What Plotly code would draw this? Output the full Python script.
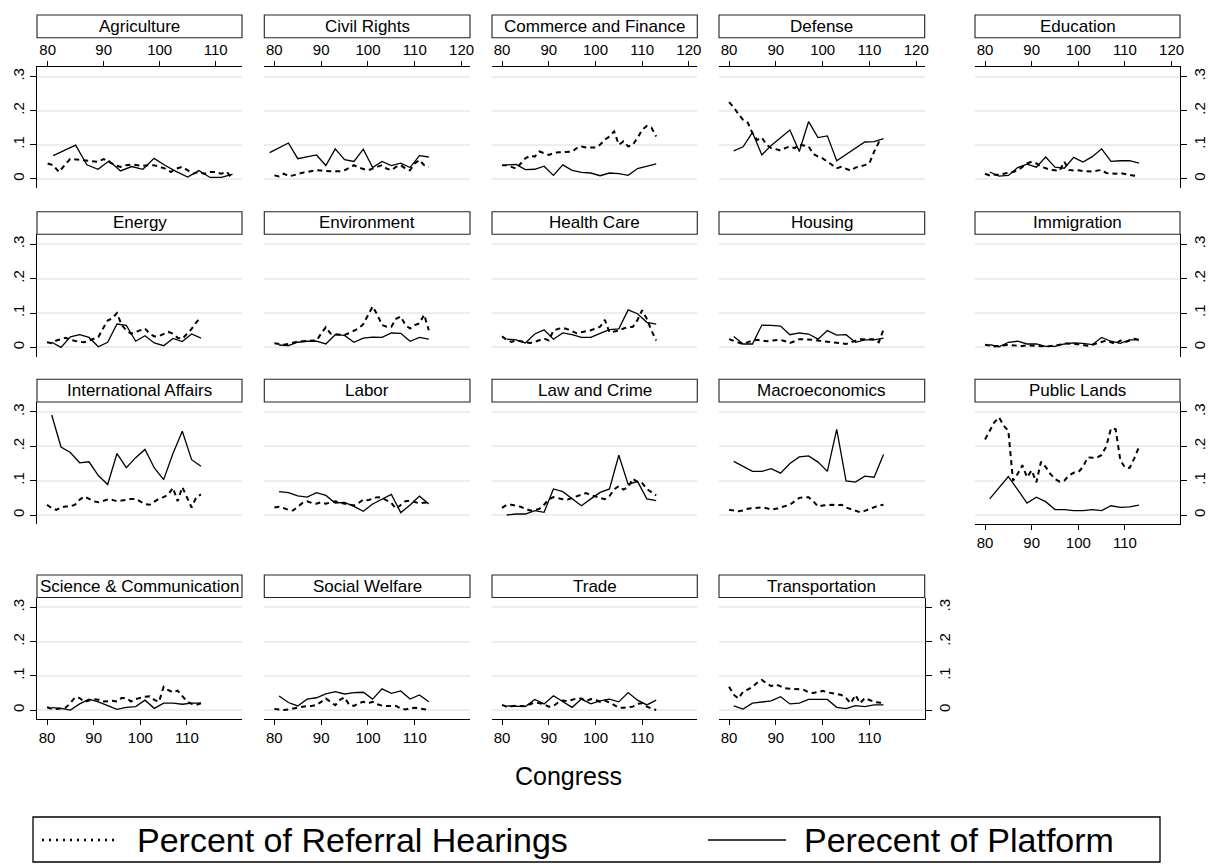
import plotly.graph_objects as go

FONT = "Liberation Sans, Arial, Helvetica, sans-serif"

# ---------------- data ----------------
HEARING_CONGRESS = list(range(80, 114))
PLATFORM_CONGRESS = list(range(81, 114, 2))
CIVIL_RIGHTS_PLATFORM_CONGRESS = list(range(79, 114, 2))

TOPICS = ["Agriculture", "Civil Rights", "Commerce and Finance", "Defense", "Education",
          "Energy", "Environment", "Health Care", "Housing", "Immigration",
          "International Affairs", "Labor", "Law and Crime", "Macroeconomics", "Public Lands",
          "Science & Communication", "Social Welfare", "Trade", "Transportation"]

AGRICULTURE_HEARINGS = [.045, .04, .02, .04, .058, .057, .055, .055, .053, .05, .058, .048, .04, .035, .04, .042, .04,
                        .038, .04, .04, .035, .03, .02, .03, .035, .025, .015, .02, .015, .02, .02, .015, .02, .0]
AGRICULTURE_PLATFORM = [.068, .083, .099, .041, .028, .053, .023, .036, .028, .06, .039, .021, .005, .024, .004, .004, .013]

CIVIL_RIGHTS_HEARINGS = [.01, .007, .015, .008, .01, .015, .018, .02, .022, .025, .024, .022, .022, .022, .022, .025, .032,
                         .04, .033, .028, .025, .03, .035, .04, .03, .025, .035, .04, .03, .025, .045, .055, .04, .035]
CIVIL_RIGHTS_PLATFORM = [.077, .091, .105, .059, .064, .07, .039, .088, .056, .051, .087, .033, .051, .039, .046, .033, .068, .064]

COMMERCE_HEARINGS = [.04, .04, .035, .03, .045, .06, .068, .065, .08, .075, .07, .075, .078, .078, .078, .08, .09,
                     .095, .092, .092, .092, .1, .115, .124, .139, .1, .11, .095, .1, .12, .144, .155, .15, .124]
COMMERCE_PLATFORM = [.041, .042, .027, .028, .037, .01, .041, .025, .019, .017, .009, .017, .015, .01, .03, .038, .044]

DEFENSE_HEARINGS = [.225, .21, .19, .173, .165, .134, .114, .121, .1, .09, .087, .083, .09, .095, .09, .1, .098,
                    .095, .073, .065, .06, .05, .04, .031, .035, .03, .024, .033, .036, .04, .046, .08, .107, .107]
DEFENSE_PLATFORM = [.082, .094, .136, .07, .098, .12, .143, .08, .168, .121, .126, .053, .072, .09, .108, .109, .118]

EDUCATION_HEARINGS = [.015, .01, .012, .012, .015, .017, .02, .025, .036, .045, .05, .045, .036, .03, .026, .025, .024,
                      .05, .026, .024, .025, .023, .023, .021, .024, .026, .017, .016, .015, .017, .014, .01, .009, .008]
EDUCATION_PLATFORM = [.02, .008, .01, .033, .043, .034, .064, .034, .031, .063, .049, .065, .088, .051, .053, .053, .046]

ENERGY_HEARINGS = [.015, .012, .02, .025, .028, .022, .018, .016, .015, .02, .026, .03, .055, .078, .085, .1, .065,
                   .05, .04, .045, .05, .055, .04, .032, .033, .04, .045, .04, .028, .025, .04, .054, .073, .088]
ENERGY_PLATFORM = [.015, .0, .031, .037, .029, .002, .015, .068, .064, .018, .034, .013, .005, .026, .017, .039, .027]

ENVIRONMENT_HEARINGS = [.012, .01, .008, .01, .014, .017, .018, .018, .019, .02, .04, .059, .04, .038, .037, .036, .042,
                        .048, .055, .068, .095, .119, .095, .065, .06, .06, .083, .09, .065, .055, .065, .07, .095, .05]
ENVIRONMENT_PLATFORM = [.007, .005, .015, .018, .018, .01, .037, .035, .015, .027, .03, .029, .042, .041, .018, .029, .024]

HEALTH_HEARINGS = [.032, .022, .016, .02, .018, .015, .013, .016, .022, .026, .02, .049, .054, .057, .053, .048, .041,
                   .044, .046, .05, .055, .06, .08, .044, .046, .049, .055, .059, .06, .08, .108, .083, .049, .02]
HEALTH_PLATFORM = [.024, .022, .013, .039, .051, .024, .042, .037, .029, .029, .041, .052, .054, .109, .098, .073, .068]

HOUSING_HEARINGS = [.024, .018, .014, .01, .016, .02, .022, .02, .018, .02, .021, .022, .018, .013, .018, .024, .024,
                    .024, .022, .02, .018, .016, .015, .013, .011, .01, .015, .02, .024, .024, .024, .024, .015, .052]
HOUSING_PLATFORM = [.032, .01, .01, .065, .064, .062, .037, .042, .039, .024, .049, .036, .037, .015, .022, .022, .027]

IMMIGRATION_HEARINGS = [.008, .005, .003, .004, .006, .008, .006, .005, .004, .006, .005, .004, .003, .003, .004, .005, .008,
                        .012, .01, .01, .009, .007, .005, .008, .012, .018, .02, .015, .01, .02, .015, .02, .025, .022]
IMMIGRATION_PLATFORM = [.008, .002, .015, .018, .01, .01, .003, .003, .01, .013, .012, .008, .029, .018, .012, .022, .022]

INTERNATIONAL_HEARINGS = [.03, .02, .015, .022, .025, .025, .03, .045, .054, .048, .04, .037, .042, .045, .044, .04, .042,
                          .045, .047, .047, .04, .032, .03, .04, .048, .052, .06, .079, .04, .081, .052, .022, .052, .06]
INTERNATIONAL_PLATFORM = [.291, .198, .182, .152, .155, .115, .089, .179, .138, .167, .191, .137, .103, .179, .244, .161, .142]

LABOR_HEARINGS = [.022, .024, .02, .015, .013, .025, .035, .04, .035, .033, .037, .033, .036, .04, .036, .033, .03,
                  .028, .035, .045, .043, .048, .052, .05, .042, .035, .018, .03, .04, .042, .038, .034, .036, .037]
LABOR_PLATFORM = [.068, .065, .056, .052, .065, .057, .035, .037, .025, .011, .032, .045, .06, .007, .029, .055, .032]

LAW_HEARINGS = [.021, .03, .03, .027, .024, .018, .013, .014, .018, .03, .045, .052, .048, .046, .045, .05, .055,
                .06, .064, .058, .054, .052, .046, .055, .075, .084, .074, .081, .106, .096, .093, .076, .066, .057]
LAW_PLATFORM = [.0, .003, .003, .013, .008, .076, .068, .047, .027, .047, .066, .076, .174, .089, .098, .047, .042]

MACRO_HEARINGS = [.015, .013, .011, .013, .018, .02, .021, .022, .02, .016, .018, .022, .025, .03, .04, .05, .052,
                  .052, .04, .025, .028, .03, .03, .028, .03, .022, .018, .012, .008, .012, .018, .022, .028, .03]
MACRO_PLATFORM = [.156, .142, .127, .127, .135, .122, .15, .169, .172, .154, .127, .249, .099, .096, .113, .11, .176]

PUBLIC_LANDS_HEARINGS = [.22, .245, .27, .284, .26, .245, .1, .12, .145, .11, .13, .095, .155, .14, .12, .105, .097,
                         .1, .115, .123, .125, .14, .168, .167, .167, .175, .2, .252, .25, .16, .138, .137, .165, .198]
PUBLIC_LANDS_PLATFORM = [.047, .08, .112, .074, .035, .052, .039, .016, .016, .013, .013, .016, .013, .027, .022, .024, .029]

SCIENCE_HEARINGS = [.008, .004, .003, .005, .007, .02, .037, .035, .024, .028, .032, .03, .025, .026, .027, .025, .035,
                    .035, .025, .032, .036, .039, .04, .03, .024, .068, .058, .052, .057, .04, .025, .018, .015, .02]
SCIENCE_PLATFORM = [.007, .005, .0, .018, .032, .024, .013, .002, .008, .01, .029, .005, .02, .02, .017, .02, .02]

SOCIAL_WELFARE_HEARINGS = [.003, .002, .0, .002, .005, .007, .01, .012, .012, .015, .024, .034, .024, .014, .03, .037, .015,
                           .012, .02, .024, .02, .024, .017, .013, .012, .013, .012, .005, .002, .005, .007, .005, .002, .0]
SOCIAL_WELFARE_PLATFORM = [.041, .022, .012, .032, .036, .047, .054, .047, .051, .052, .032, .062, .049, .056, .032, .044, .024]

TRADE_HEARINGS = [.015, .01, .011, .013, .012, .012, .017, .022, .02, .017, .01, .012, .022, .028, .026, .03, .034,
                  .034, .026, .032, .03, .024, .028, .022, .015, .007, .007, .009, .01, .018, .02, .01, .004, .0]
TRADE_PLATFORM = [.012, .012, .01, .031, .018, .042, .024, .008, .032, .018, .027, .032, .024, .051, .029, .015, .029]

TRANSPORTATION_HEARINGS = [.068, .045, .034, .054, .06, .068, .08, .088, .078, .07, .075, .07, .064, .062, .062, .061, .059,
                           .052, .05, .054, .056, .052, .049, .046, .044, .035, .02, .044, .02, .035, .03, .024, .022, .02]
TRANSPORTATION_PLATFORM = [.012, .003, .02, .024, .027, .039, .018, .02, .031, .031, .031, .008, .004, .013, .01, .015, .015]

TOP_TICKS = [80, 90, 100, 110, 120]
AGRI_TOP_TICKS = [80, 90, 100, 110]
BOTTOM_TICKS = [80, 90, 100, 110]
Y_TICKS = [0, 0.1, 0.2, 0.3]
Y_TICK_LABELS = ["0", ".1", ".2", ".3"]

LEGEND_LABELS = ["Percent of Referral Hearings", "Perecent of Platform"]
X_TITLE = "Congress"

HEARINGS = [AGRICULTURE_HEARINGS, CIVIL_RIGHTS_HEARINGS, COMMERCE_HEARINGS, DEFENSE_HEARINGS, EDUCATION_HEARINGS,
            ENERGY_HEARINGS, ENVIRONMENT_HEARINGS, HEALTH_HEARINGS, HOUSING_HEARINGS, IMMIGRATION_HEARINGS,
            INTERNATIONAL_HEARINGS, LABOR_HEARINGS, LAW_HEARINGS, MACRO_HEARINGS, PUBLIC_LANDS_HEARINGS,
            SCIENCE_HEARINGS, SOCIAL_WELFARE_HEARINGS, TRADE_HEARINGS, TRANSPORTATION_HEARINGS]
PLATFORMS = [AGRICULTURE_PLATFORM, CIVIL_RIGHTS_PLATFORM, COMMERCE_PLATFORM, DEFENSE_PLATFORM, EDUCATION_PLATFORM,
             ENERGY_PLATFORM, ENVIRONMENT_PLATFORM, HEALTH_PLATFORM, HOUSING_PLATFORM, IMMIGRATION_PLATFORM,
             INTERNATIONAL_PLATFORM, LABOR_PLATFORM, LAW_PLATFORM, MACRO_PLATFORM, PUBLIC_LANDS_PLATFORM,
             SCIENCE_PLATFORM, SOCIAL_WELFARE_PLATFORM, TRADE_PLATFORM, TRANSPORTATION_PLATFORM]

# ---------------- geometry ----------------
W, H = 1209, 867
COL_PX = [(37, 242), (264.3, 470), (492, 697.3), (719, 924.7), (975, 1180)]
ROW_PX = [(66.7, 188), (234.3, 356.7), (402, 524.3), (597.5, 719.3)]
TITLE_PX = [(15, 37.7), (211.7, 234.3), (379.3, 402), (575, 597.5)]
X_RANGE = [77.85, 121.8]
AGRI_X_RANGE = [78.1, 114.7]
Y_RANGE = [-0.027, 0.329]

GRID = "#e6eff1"
LINE_W = 1.3
DASH = "5px,4px"


def px(xp):
    return xp / W


def py(yp):
    return 1 - yp / H


fig = go.Figure()
layout = dict(
    width=W, height=H, margin=dict(l=0, r=0, t=0, b=0, autoexpand=False),
    paper_bgcolor="white", plot_bgcolor="white",
    font=dict(family=FONT, color="black", size=15),
    shapes=[], annotations=[], showlegend=False,
)

for k, topic in enumerate(TOPICS):
    r, c = divmod(k, 5)
    x0, x1 = COL_PX[c]
    y0, y1 = ROW_PX[r]
    xa = "x" if k == 0 else f"x{k+1}"
    ya = "y" if k == 0 else f"y{k+1}"
    xkey = "xaxis" if k == 0 else f"xaxis{k+1}"
    ykey = "yaxis" if k == 0 else f"yaxis{k+1}"

    plat_x = CIVIL_RIGHTS_PLATFORM_CONGRESS if topic == "Civil Rights" else PLATFORM_CONGRESS
    fig.add_trace(go.Scatter(x=HEARING_CONGRESS, y=HEARINGS[k], mode="lines", xaxis=xa, yaxis=ya,
                             line=dict(color="black", width=2.0, dash=DASH),
                             name=LEGEND_LABELS[0], hoverinfo="skip"))
    fig.add_trace(go.Scatter(x=plat_x, y=PLATFORMS[k], mode="lines", xaxis=xa, yaxis=ya,
                             line=dict(color="black", width=LINE_W),
                             name=LEGEND_LABELS[1], hoverinfo="skip"))

    top = r == 0
    bottom = r == 3 or (r == 2 and c == 4)
    left = c == 0
    right = (c == 4 and r < 3) or (r == 3 and c == 3)

    xaxis = dict(domain=[px(x0), px(x1)], anchor=ya, range=AGRI_X_RANGE if k == 0 else X_RANGE,
                 showgrid=False, zeroline=False, showline=False, showticklabels=False, ticks="",
                 fixedrange=True)
    if top:
        xaxis.update(side="top", showline=True, linecolor="black", linewidth=1.3,
                     ticks="outside", ticklen=5, tickwidth=1.2, tickcolor="black",
                     tickvals=AGRI_TOP_TICKS if k == 0 else TOP_TICKS, showticklabels=True,
                     tickfont=dict(size=15, family=FONT, color="black"))
    elif bottom:
        xaxis.update(side="bottom", showline=True, linecolor="black", linewidth=1.3,
                     ticks="outside", ticklen=5, tickwidth=1.2, tickcolor="black",
                     tickvals=BOTTOM_TICKS, showticklabels=True,
                     tickfont=dict(size=15, family=FONT, color="black"))
    layout[xkey] = xaxis

    yaxis = dict(domain=[py(y1), py(y0)], anchor=xa, range=Y_RANGE,
                 tickvals=Y_TICKS, ticktext=Y_TICK_LABELS, showgrid=True, gridcolor=GRID, gridwidth=1.6,
                 zeroline=False, showline=False, showticklabels=False, ticks="", fixedrange=True)
    if left or right:
        yaxis.update(side="left" if left else "right", showline=True, linecolor="black", linewidth=1.3,
                     ticks="outside", ticklen=6, tickwidth=1.2, tickcolor="black", showticklabels=True,
                     tickangle=-90, tickfont=dict(size=15, family=FONT, color="black"))
    layout[ykey] = yaxis

    ty0, ty1 = TITLE_PX[r]
    layout["shapes"].append(dict(type="rect", xref="paper", yref="paper",
                                 x0=px(x0), x1=px(x1), y0=py(ty1), y1=py(ty0),
                                 line=dict(color="#222222", width=1.1), fillcolor="white", layer="above"))
    layout["annotations"].append(dict(text=topic, xref="paper", yref="paper",
                                      x=px((x0 + x1) / 2), y=py((ty0 + ty1) / 2),
                                      xanchor="center", yanchor="middle", showarrow=False,
                                      font=dict(size=17, family=FONT, color="black")))

# x-axis title
layout["annotations"].append(dict(text=X_TITLE, xref="paper", yref="paper", x=px(568), y=py(776),
                                  xanchor="center", yanchor="middle", showarrow=False,
                                  font=dict(size=25, family=FONT, color="black")))

# legend (box, keys and labels)
LEG_BOX = (33, 817, 1160, 862)
LEG_Y = 840
layout["shapes"].append(dict(type="rect", xref="paper", yref="paper",
                             x0=px(LEG_BOX[0]), x1=px(LEG_BOX[2]), y0=py(LEG_BOX[3]), y1=py(LEG_BOX[1]),
                             line=dict(color="black", width=1.3), fillcolor="white"))
layout["shapes"].append(dict(type="line", xref="paper", yref="paper",
                             x0=px(42), x1=px(118), y0=py(LEG_Y), y1=py(LEG_Y),
                             line=dict(color="black", width=2.4, dash="2px,5px")))
layout["shapes"].append(dict(type="line", xref="paper", yref="paper",
                             x0=px(708), x1=px(786), y0=py(LEG_Y), y1=py(LEG_Y),
                             line=dict(color="black", width=1.5)))
layout["annotations"].append(dict(text=LEGEND_LABELS[0], xref="paper", yref="paper", x=px(135), y=py(LEG_Y),
                                  xanchor="left", yanchor="middle", showarrow=False,
                                  font=dict(size=34, family=FONT, color="black")))
layout["annotations"].append(dict(text=LEGEND_LABELS[1], xref="paper", yref="paper", x=px(802), y=py(LEG_Y),
                                  xanchor="left", yanchor="middle", showarrow=False,
                                  font=dict(size=34, family=FONT, color="black")))

fig.update_layout(**layout)
fig.write_html("out.html")
